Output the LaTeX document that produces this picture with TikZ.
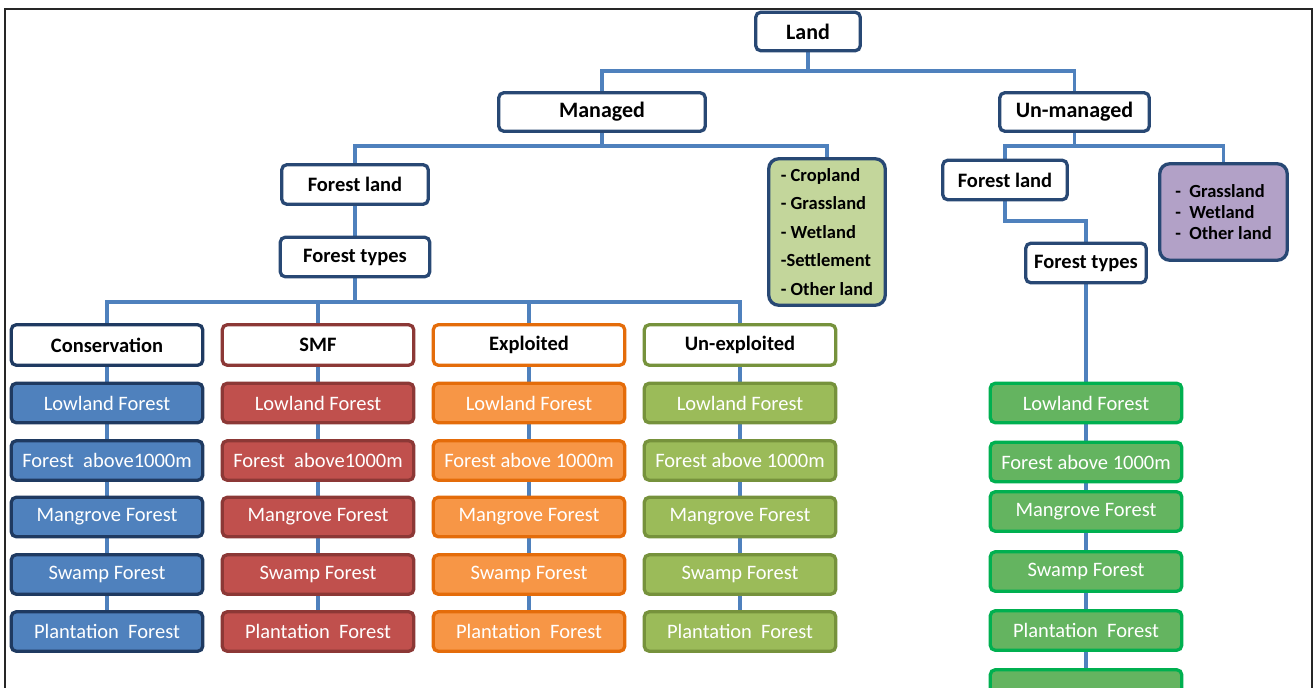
\documentclass[tikz,border=0pt]{standalone}
\usepackage{fontspec}
\setmainfont{Carlito}
\usetikzlibrary{positioning,backgrounds}

\definecolor{linkblue}{RGB}{79,129,189}
\definecolor{navy}{RGB}{40,72,116}
\definecolor{consline}{RGB}{31,58,97}
\definecolor{consfill}{RGB}{79,129,189}
\definecolor{smfline}{RGB}{140,56,54}
\definecolor{smffill}{RGB}{192,80,77}
\definecolor{expline}{RGB}{228,108,10}
\definecolor{expfill}{RGB}{247,150,70}
\definecolor{unxline}{RGB}{118,146,60}
\definecolor{unxfill}{RGB}{155,187,89}
\definecolor{wildline}{RGB}{0,176,80}
\definecolor{wildfill}{RGB}{100,180,96}
\definecolor{cropgreen}{RGB}{195,214,155}
\definecolor{lilac}{RGB}{178,161,199}

\tikzset{
  conn/.style={draw=linkblue, line width=3.6pt},
  topbox/.style={draw=navy, line width=3.3pt, rounded corners=5pt, fill=white,
    minimum height=38.5pt, inner sep=0pt, font=\bfseries\fontsize{22}{26}\selectfont},
  midbox/.style={topbox, minimum height=39.5pt, font=\bfseries\fontsize{20.5}{24}\selectfont},
  headbox/.style={midbox, draw=#1, minimum width=191.5pt, minimum height=40.5pt},
  leafbox/.style 2 args={draw=#1, fill=#2, line width=3.3pt, rounded corners=5pt,
    minimum width=191.5pt, minimum height=39.5pt, inner sep=0pt, text=white,
    font=\fontsize{20.5}{24}\selectfont},
  listbox/.style={draw=navy, fill=#1, line width=3.3pt, rounded corners=10pt,
    inner sep=0pt, align=left, font=\bfseries\fontsize{18.5}{28.5}\selectfont},
}

\begin{document}
\begin{tikzpicture}[x=1pt,y=-1pt]
  \useasboundingbox (0,0) rectangle (1315,688);

  % top of the tree
  \node[topbox, minimum width=104.5pt] (land) at (808,31.5) {Land};
  \node[topbox, minimum width=206.5pt] (managed) at (602,112) {Managed};
  \node[topbox, minimum width=149.5pt] (unmanaged) at (1074.5,112) {Un-managed};

  \node[midbox, minimum width=146.5pt] (forestL) at (355,184.5) {Forest land};
  \node[midbox, minimum width=149.5pt] (typesL) at (355,257) {Forest types};
  \node[listbox=cropgreen, minimum width=116.5pt, minimum height=146.5pt] (otherM) at (827,232)
    {- Cropland\\- Grassland\\- Wetland\\-Settlement\\- Other land};

  \node[midbox, minimum width=124.5pt] (forestR) at (1005,180) {Forest land};
  \node[midbox, minimum width=120.5pt] (typesR) at (1086,263) {Forest types};
  \node[listbox=lilac, font=\bfseries\fontsize{18.5}{21}\selectfont,
    minimum width=127.5pt, minimum height=96.5pt] (otherU) at (1223.5,212)
    {-\ \ Grassland\\-\ \ Wetland\\-\ \ Other land};

  % managed forest types
  \node[headbox=consline] (cons) at (107,345) {Conservation};
  \node[leafbox={consline}{consfill}] (cons1) at (107,403) {Lowland Forest};
  \node[leafbox={consline}{consfill}] (cons2) at (107,460.5) {Forest\ \ above1000m};
  \node[leafbox={consline}{consfill}] (cons3) at (107,517) {Mangrove Forest};
  \node[leafbox={consline}{consfill}] (cons4) at (107,574.5) {Swamp Forest};
  \node[leafbox={consline}{consfill}] (cons5) at (107,631.5) {Plantation\ \ Forest};

  \node[headbox=smfline] (smf) at (318,345) {SMF};
  \node[leafbox={smfline}{smffill}] (smf1) at (318,403) {Lowland Forest};
  \node[leafbox={smfline}{smffill}] (smf2) at (318,460.5) {Forest\ \ above1000m};
  \node[leafbox={smfline}{smffill}] (smf3) at (318,517) {Mangrove Forest};
  \node[leafbox={smfline}{smffill}] (smf4) at (318,574.5) {Swamp Forest};
  \node[leafbox={smfline}{smffill}] (smf5) at (318,631.5) {Plantation\ \ Forest};

  \node[headbox=expline] (expl) at (529,345) {Exploited};
  \node[leafbox={expline}{expfill}] (expl1) at (529,403) {Lowland Forest};
  \node[leafbox={expline}{expfill}] (expl2) at (529,460.5) {Forest above 1000m};
  \node[leafbox={expline}{expfill}] (expl3) at (529,517) {Mangrove Forest};
  \node[leafbox={expline}{expfill}] (expl4) at (529,574.5) {Swamp Forest};
  \node[leafbox={expline}{expfill}] (expl5) at (529,631.5) {Plantation\ \ Forest};

  \node[headbox=unxline] (unexp) at (740,345) {Un-exploited};
  \node[leafbox={unxline}{unxfill}] (unexp1) at (740,403) {Lowland Forest};
  \node[leafbox={unxline}{unxfill}] (unexp2) at (740,460.5) {Forest above 1000m};
  \node[leafbox={unxline}{unxfill}] (unexp3) at (740,517) {Mangrove Forest};
  \node[leafbox={unxline}{unxfill}] (unexp4) at (740,574.5) {Swamp Forest};
  \node[leafbox={unxline}{unxfill}] (unexp5) at (740,631.5) {Plantation\ \ Forest};

  % un-managed forest types
  \node[leafbox={wildline}{wildfill}] (wild1) at (1086,403) {Lowland Forest};
  \node[leafbox={wildline}{wildfill}] (wild2) at (1086,462) {Forest above 1000m};
  \node[leafbox={wildline}{wildfill}] (wild3) at (1086,511.5) {Mangrove Forest};
  \node[leafbox={wildline}{wildfill}] (wild4) at (1086,571.5) {Swamp Forest};
  \node[leafbox={wildline}{wildfill}] (wild5) at (1086,630.5) {Plantation\ \ Forest};
  \node[leafbox={wildline}{wildfill}] (wild6) at (1086,689.5) {};

  \coordinate (landbar) at (808,71);
  \coordinate (mbar) at (602,146);
  \coordinate (ubar) at (1074.5,146);
  \coordinate (rbar) at (1005,221);
  \coordinate (tbar) at (355,302);

  \begin{scope}[on background layer]
    \draw[conn] (land.south) -- (landbar);
    \draw[conn] (managed.north) |- (landbar) -| (unmanaged.north);
    \draw[conn] (managed.south) -- (mbar);
    \draw[conn] (forestL.north) |- (mbar) -| (otherM.north);
    \draw[conn] (unmanaged.south) -- (ubar);
    \draw[conn] (forestR.north) |- (ubar) -| (otherU.north);
    \draw[conn] (forestL) -- (typesL);
    \draw[conn] (forestR.south) -- (rbar) -| (typesR.north);
    \draw[conn] (typesL.south) -- (tbar);
    \draw[conn] (cons.north) |- (unexp.north |- tbar) -- (unexp.north);
    \draw[conn] (smf.north) -- (smf.north |- tbar);
    \draw[conn] (expl.north) -- (expl.north |- tbar);
    \draw[conn] (cons) -- (cons5);
    \draw[conn] (smf) -- (smf5);
    \draw[conn] (expl) -- (expl5);
    \draw[conn] (unexp) -- (unexp5);
    \draw[conn] (typesR) -- (wild6);
  \end{scope}

  \draw[line width=1.5pt, black!85] (5,688) -- (5,9) -- (1312,9) -- (1312,688);
\end{tikzpicture}
\end{document}
